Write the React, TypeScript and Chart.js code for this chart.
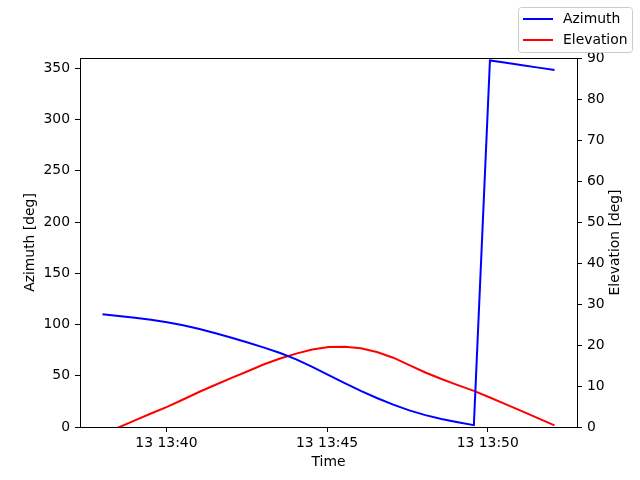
import React, { useEffect, useRef } from 'react';
import Chart from 'chart.js/auto';

// minutes after 13:00 (samples ~30 s apart)
const times = [
  38.01, 38.51, 39.02, 39.52, 40.02, 40.52, 41.03, 41.53, 42.03, 42.53,
  43.04, 43.54, 44.04, 44.54, 45.05, 45.55, 46.05, 46.55, 47.06, 47.56,
  48.06, 48.56, 49.07, 49.57, 50.07, 50.57, 51.08, 51.58, 52.08,
];

const azimuth = [
  110, 108.3, 106.5, 104.6, 102.2, 99.3, 95.6, 91.4, 87.0, 82.4,
  77.4, 72.2, 66.0, 58.6, 50.6, 42.8, 35.2, 28.3, 21.8, 16.2,
  11.6, 7.9, 4.7, 1.8, 357.6, 355.3, 352.9, 350.6, 348.3,
];

const elevation = [
  -1.7, -0.1, 1.6, 3.3, 4.9, 6.7, 8.6, 10.3, 12.0, 13.6,
  15.3, 16.7, 17.9, 18.9, 19.5, 19.6, 19.2, 18.3, 16.9, 15.1,
  13.3, 11.7, 10.2, 8.8, 7.2, 5.5, 3.8, 2.1, 0.4,
];

const xTicks = [40, 45, 50];
const xTickLabels = ['13 13:40', '13 13:45', '13 13:50'];
const azTicks = [0, 50, 100, 150, 200, 250, 300, 350];
const elTicks = [0, 10, 20, 30, 40, 50, 60, 70, 80, 90];
const seriesNames = ['Azimuth', 'Elevation'];
const seriesColors = ['#0000ff', '#ff0000'];

const FONT = 'DejaVu Sans';
const FS = 13.9;

const extras = {
  id: 'extras',
  afterDraw(chart) {
    const { ctx, chartArea } = chart;
    ctx.save();
    // top spine
    ctx.strokeStyle = '#000';
    ctx.lineWidth = 1;
    ctx.beginPath();
    ctx.moveTo(chartArea.left, chartArea.top + 0.5);
    ctx.lineTo(chartArea.right, chartArea.top + 0.5);
    ctx.stroke();

    // right axis title, reads bottom to top
    ctx.fillStyle = '#000';
    ctx.font = `${FS}px "${FONT}"`;
    ctx.textAlign = 'center';
    ctx.textBaseline = 'middle';
    ctx.translate(615, (chartArea.top + chartArea.bottom) / 2);
    ctx.rotate(-Math.PI / 2);
    ctx.fillText('Elevation [deg]', 0, 0);
    ctx.restore();

    // legend
    ctx.save();
    const bx = 518.5, by = 7.5, bw = 114, bh = 45;
    ctx.beginPath();
    ctx.roundRect(bx, by, bw, bh, 3);
    ctx.fillStyle = 'rgba(255,255,255,0.8)';
    ctx.fill();
    ctx.strokeStyle = '#cccccc';
    ctx.lineWidth = 1;
    ctx.stroke();
    ctx.font = `${FS}px "${FONT}"`;
    ctx.textBaseline = 'middle';
    ctx.textAlign = 'left';
    seriesNames.forEach((name, i) => {
      const y = 19 + i * 21;
      ctx.strokeStyle = seriesColors[i];
      ctx.lineWidth = 2;
      ctx.beginPath();
      ctx.moveTo(523, y);
      ctx.lineTo(553, y);
      ctx.stroke();
      ctx.fillStyle = '#000';
      ctx.fillText(name, 563, y);
    });
    ctx.restore();
  },
};

export default function App() {
  const chartRef = useRef(null);
  const chartInstanceRef = useRef(null);

  useEffect(() => {
    document.body.style.margin = '0';
    const ctx = chartRef.current.getContext('2d');

    if (chartInstanceRef.current) {
      chartInstanceRef.current.destroy();
    }

    const tickGrid = {
      display: true,
      drawOnChartArea: false,
      drawTicks: true,
      tickLength: 5,
      color: '#000',
    };

    chartInstanceRef.current = new Chart(ctx, {
      type: 'line',
      data: {
        datasets: [
          {
            label: seriesNames[0],
            data: times.map((t, i) => ({ x: t, y: azimuth[i] })),
            borderColor: seriesColors[0],
            borderWidth: 2,
            pointRadius: 0,
            tension: 0,
            yAxisID: 'y',
            clip: 0,
          },
          {
            label: seriesNames[1],
            data: times.map((t, i) => ({ x: t, y: elevation[i] })),
            borderColor: seriesColors[1],
            borderWidth: 2,
            pointRadius: 0,
            tension: 0,
            yAxisID: 'y1',
            clip: 0,
          },
        ],
      },
      options: {
        responsive: false,
        devicePixelRatio: 1,
        animation: false,
        layout: { padding: { top: 58, left: 0, right: 0, bottom: 0 } },
        font: { family: FONT, size: FS },
        color: '#000',
        scales: {
          x: {
            type: 'linear',
            position: 'bottom',
            min: 37.31,
            max: 52.78,
            afterFit: (s) => { s.height = 53; },
            afterBuildTicks: (s) => { s.ticks = xTicks.map(v => ({ value: v })); },
            ticks: {
              color: '#000',
              font: { family: FONT, size: FS },
              padding: 3,
              maxRotation: 0,
              callback: (v) => xTickLabels[xTicks.indexOf(v)],
            },
            grid: tickGrid,
            border: { display: true, color: '#000', width: 1 },
            title: {
              display: true,
              text: 'Time',
              color: '#000',
              font: { family: FONT, size: FS },
              padding: { top: 0, bottom: 9 },
            },
          },
          y: {
            type: 'linear',
            position: 'left',
            min: 0,
            max: 360,
            afterFit: (s) => { s.width = 80; },
            afterBuildTicks: (s) => { s.ticks = azTicks.map(v => ({ value: v })); },
            ticks: {
              color: '#000',
              font: { family: FONT, size: FS },
              padding: 5,
            },
            grid: tickGrid,
            border: { display: true, color: '#000', width: 1 },
            title: {
              display: true,
              text: 'Azimuth [deg]',
              color: '#000',
              font: { family: FONT, size: FS },
              padding: { top: 22, bottom: 0 },
            },
          },
          y1: {
            type: 'linear',
            position: 'right',
            min: 0,
            max: 90,
            afterFit: (s) => { s.width = 63; },
            afterBuildTicks: (s) => { s.ticks = elTicks.map(v => ({ value: v })); },
            ticks: {
              color: '#000',
              font: { family: FONT, size: FS },
              padding: 5,
            },
            grid: tickGrid,
            border: { display: true, color: '#000', width: 1 },
          },
        },
        plugins: {
          legend: { display: false },
          tooltip: { enabled: false },
        },
      },
      plugins: [extras],
    });

    return () => {
      if (chartInstanceRef.current) {
        chartInstanceRef.current.destroy();
        chartInstanceRef.current = null;
      }
    };
  }, []);

  return (
    <div style={{ position: 'fixed', left: 0, top: 0, width: 640, height: 480, background: '#fff' }}>
      <canvas ref={chartRef} width={640} height={480} />
    </div>
  );
}
